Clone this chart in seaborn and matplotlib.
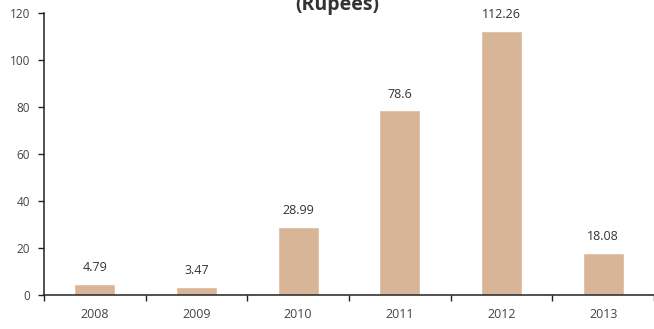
import matplotlib
matplotlib.use("Agg")
import matplotlib.pyplot as plt
import seaborn as sns
import pandas as pd
from matplotlib.ticker import FixedLocator

# Yearly values in rupees
years = ["2008", "2009", "2010", "2011", "2012", "2013"]
values = [4.79, 3.47, 28.99, 78.6, 112.26, 18.08]
value_labels = ["4.79", "3.47", "28.99", "78.6", "112.26", "18.08"]
y_ticks = [0, 20, 40, 60, 80, 100, 120]

df = pd.DataFrame({"year": years, "value": values})

sns.set_theme(style="white")
plt.rcParams["font.family"] = ["Open Sans", "DejaVu Sans"]

fig = plt.figure(figsize=(6.54, 3.29), dpi=100)
ax = fig.add_axes([44 / 654, 34 / 329, 610 / 654, 282 / 329])

bar_color = "#D8B597"
sns.barplot(data=df, x="year", y="value", color=bar_color, width=0.4,
            saturation=1, ax=ax)

ax.set_xlim(-0.5, 5.5)
ax.set_ylim(0, 120)
ax.set_yticks(y_ticks)
ax.set_xlabel("")
ax.set_ylabel("")

# Value labels above each bar
for i, (v, lab) in enumerate(zip(values, value_labels)):
    ax.annotate(lab, (i, v), xytext=(0, 7), textcoords="offset points",
                ha="center", va="bottom", fontsize=9, color="#333333")

# Axis styling: left spine and a bottom line running to the edge
for side in ["top", "right"]:
    ax.spines[side].set_visible(False)
for side in ["left", "bottom"]:
    ax.spines[side].set_color("#222222")
    ax.spines[side].set_linewidth(1.1)

ax.tick_params(axis="y", which="major", direction="out", length=4, width=1,
               color="#222222", labelsize=8.5, labelcolor="#444444", pad=6,
               left=True)
ax.tick_params(axis="x", which="major", length=0, labelsize=9,
               labelcolor="#444444", pad=9)
ax.xaxis.set_minor_locator(FixedLocator([x - 0.5 for x in range(len(years) + 1)]))
ax.tick_params(axis="x", which="minor", direction="out", length=4, width=1,
               color="#222222", bottom=True)

fig.text(0.515, 0.955, "(Rupees)", ha="center", va="bottom", fontsize=14,
         fontweight="bold", color="#333333")

fig.savefig("out.png", dpi=100)
